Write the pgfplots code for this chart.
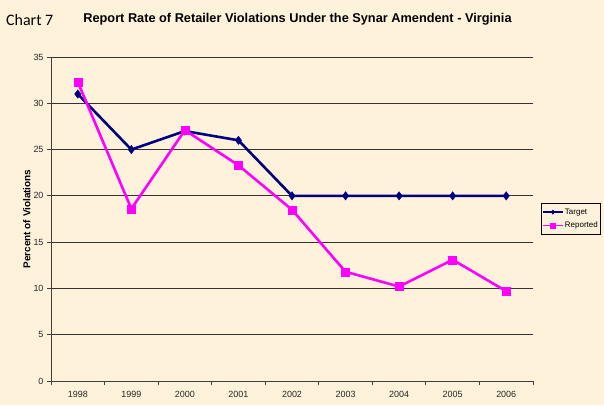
\documentclass[border=0pt]{standalone}
\usepackage{pgfplots}
\pgfplotsset{compat=1.18}
\usepackage{fontspec}
\setmainfont{Liberation Sans}
\newfontfamily\carlito{Carlito}
\definecolor{bg}{HTML}{FEF2DA}
\definecolor{navy}{HTML}{000080}
\definecolor{mag}{HTML}{FF00FF}
\begin{document}
\begin{tikzpicture}[x=1bp,y=1bp]
\fill[bg] (0,0) rectangle (604,405);
\node[anchor=west, inner sep=0pt, font=\carlito\fontsize{16}{18}\selectfont] at (6,385) {Chart 7};
\node[inner sep=0pt, font=\bfseries\fontsize{12.8}{14}\selectfont] at (297.5,386) {Report Rate of Retailer Violations Under the Synar Amendent - Virginia};
\begin{axis}[
  at={(51bp,24bp)}, anchor=south west,
  scale only axis, width=482bp, height=324bp,
  xmin=-0.5, xmax=8.5, ymin=0, ymax=35,
  axis x line*=bottom, axis y line*=left,
  axis line style={black!75, line width=0.8pt},
  xtick={0,...,8},
  xticklabels={1998,1999,2000,2001,2002,2003,2004,2005,2006},
  minor xtick={-0.5,0.5,...,8.5},
  major x tick style={draw=none},
  minor tick length=4bp,
  ytick={0,5,...,35},
  major tick length=4bp,
  tick align=outside,
  tick style={black!75, line width=0.8pt},
  ymajorgrids,
  grid style={black!80, line width=0.8pt},
  /pgf/number format/assume math mode=true,
  ticklabel style={font=\fontsize{9}{10}\selectfont, text=black!85},
  xticklabel style={yshift=-3bp},
  ylabel={Percent of Violations},
  ylabel style={at={(axis description cs:-0.05,0.5)}, anchor=center, font=\bfseries\fontsize{10}{11}\selectfont},
  clip=false,
  legend style={at={(1,0.5)}, anchor=west, xshift=8bp, draw=black, fill=bg,
    font=\fontsize{8}{10}\selectfont, inner xsep=1pt, inner ysep=3pt, row sep=2.5pt,
    nodes={inner xsep=1.5pt}},
  legend cell align=left,
  legend image code/.code={%
    \draw[#1, line width=1.3bp, mark size=2.2bp, mark repeat=2, mark phase=2]
      plot coordinates {(0bp,0bp) (10bp,0bp) (20bp,0bp)};},
]
\addplot[navy, line width=2.6bp, mark=diamond*, mark size=4.2bp, mark options={solid, line width=0.4bp}]
  coordinates {(0,31) (1,25) (2,27) (3,26) (4,20) (5,20) (6,20) (7,20) (8,20)};
\addlegendentry{Target}
\addplot[mag, line width=2.6bp, mark=square*, mark size=4bp, mark options={solid, line width=0.4bp}]
  coordinates {(0,32.3) (1,18.6) (2,27.1) (3,23.3) (4,18.5) (5,11.8) (6,10.2) (7,13.1) (8,9.7)};
\addlegendentry{Reported}
\end{axis}
\useasboundingbox (0,0) rectangle (604,405);
\end{tikzpicture}
\end{document}
